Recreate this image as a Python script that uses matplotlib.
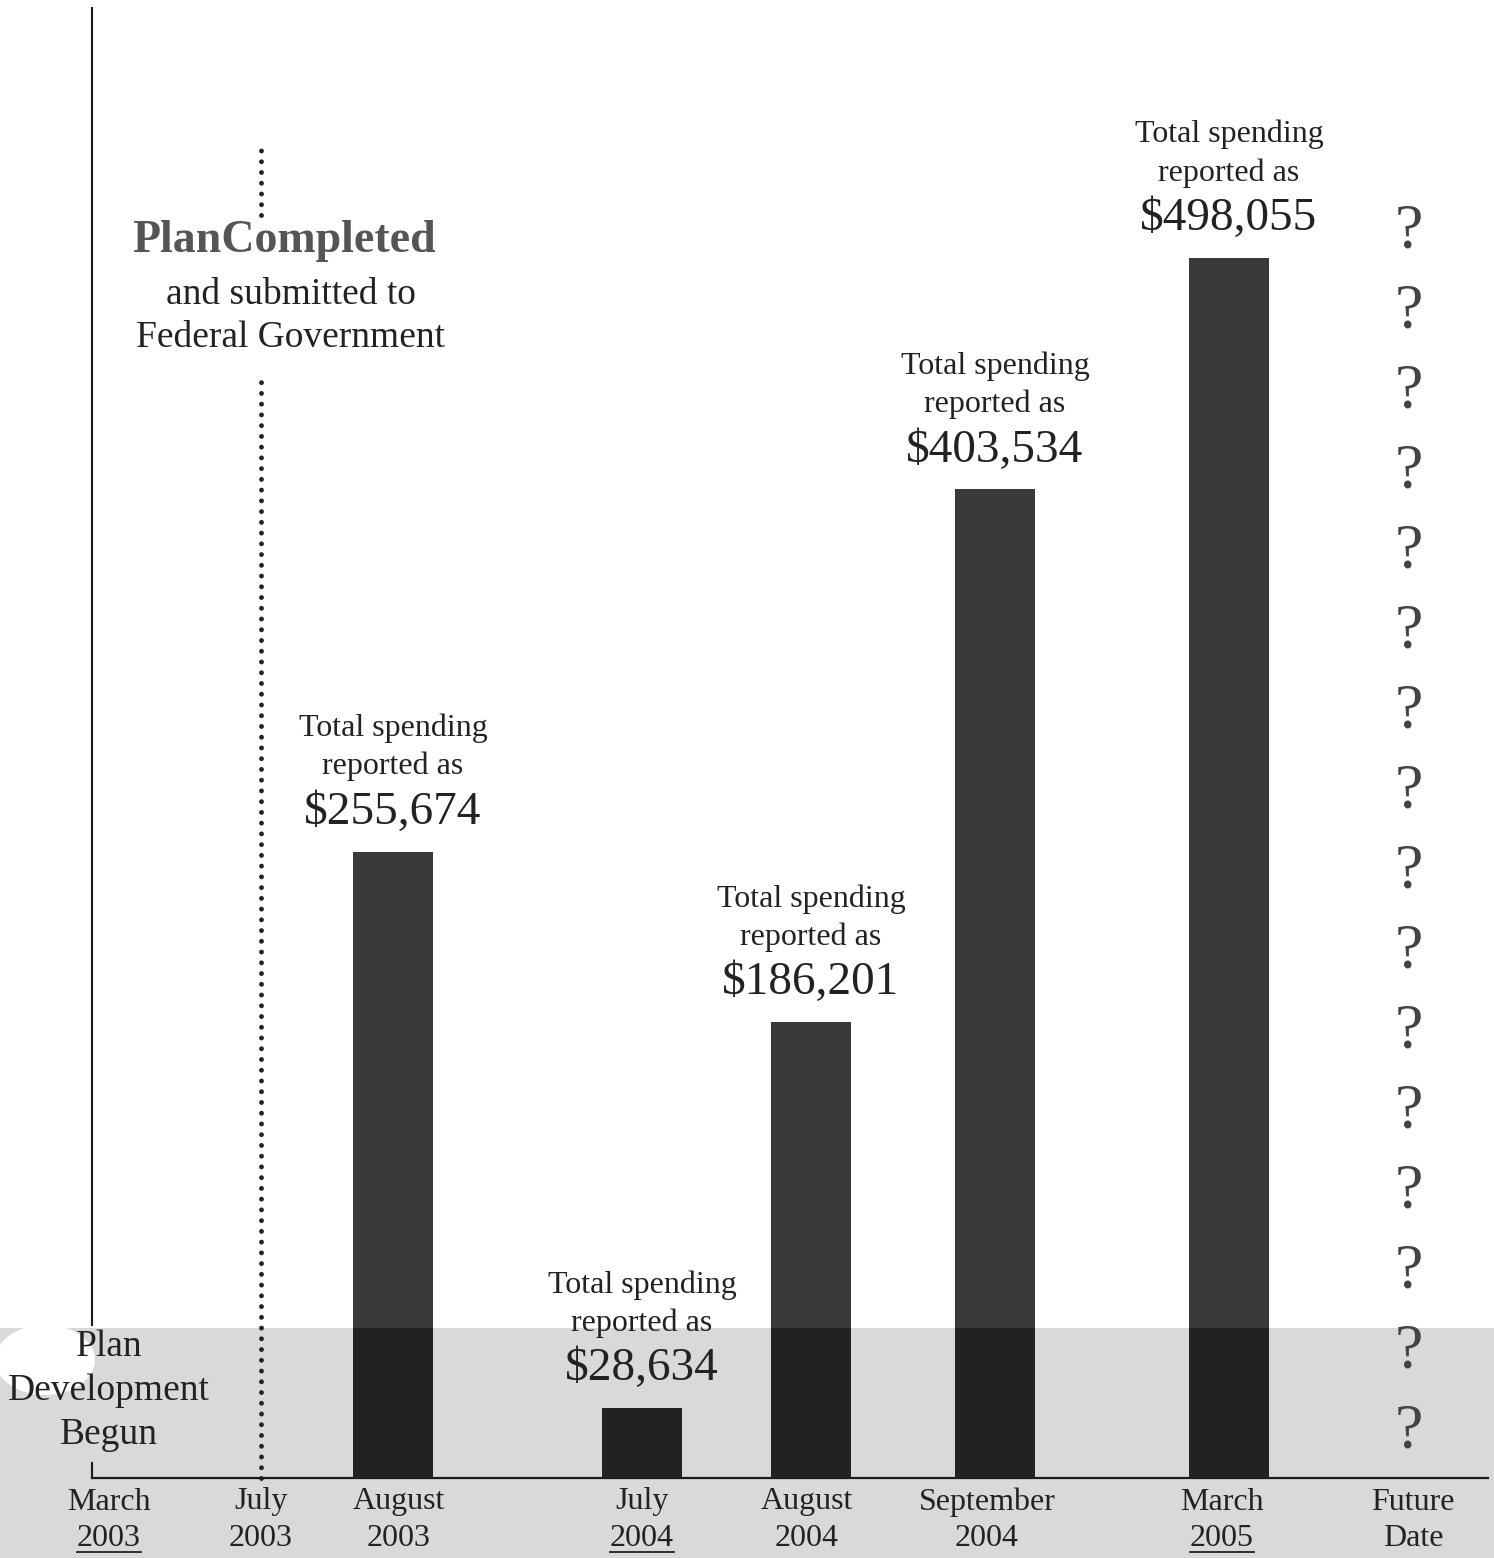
import matplotlib
matplotlib.use("Agg")
import matplotlib.pyplot as plt
from matplotlib.patches import Rectangle, Ellipse
from matplotlib.lines import Line2D
from matplotlib.transforms import blended_transform_factory
import numpy as np

plt.rcParams["font.family"] = ["Liberation Serif", "DejaVu Serif"]

# timeline labels
months = ["March", "July", "August", "July", "August", "September", "March", "Future"]
years = ["2003", "2003", "2003", "2004", "2004", "2004", "2005", "Date"]
underlined = [True, False, False, True, False, False, True, False]

# reported spending
bar_dates = ["August 2003", "July 2004", "August 2004", "September 2004", "March 2005"]
spending = [255674, 28634, 186201, 403534, 498055]

# layout (axis runs 92..1488 like the page)
label_x = [109, 261, 399, 642, 807, 987, 1222, 1413]
bar_x = [393, 642, 811, 995, 1229]
plan_x = 261
future_x = 1409
n_questions = 16

W, H = 1494, 1558
fig = plt.figure(figsize=(W / 100, H / 100), dpi=100)
fig.patch.set_facecolor("white")

# grey scan band at the bottom of the page
band_h = (H - 1328) / H
band = Rectangle((0, 0), 1, band_h, transform=fig.transFigure,
                 facecolor="#d9d9d9", edgecolor="none", zorder=-2)
fig.patches.append(band)
blob = Ellipse((45 / W, (H - 1360) / H), 100 / W, 70 / H, transform=fig.transFigure,
               facecolor="white", edgecolor="none", zorder=-1)
fig.patches.append(blob)

ax = fig.add_axes([92 / W, 80 / H, 1396 / W, 1470 / H])
ax.patch.set_visible(False)
ax.set_xlim(92, 1488)
ax.set_ylim(0, 600000)
for s in ["top", "right", "left"]:
    ax.spines[s].set_visible(False)
ax.spines["bottom"].set_linewidth(1.6)
ax.spines["bottom"].set_color("#1a1a1a")
ax.set_xticks([])
ax.set_yticks([])

bars = ax.bar(bar_x, spending, width=80, color="#3a3a3a", zorder=2)
dark = ax.bar(bar_x, spending, width=80, color="#222222", zorder=3)
clip = Rectangle((0, 0), 1, band_h, transform=fig.transFigure)
for b in dark:
    b.set_clip_path(clip)

# left vertical line, interrupted by the label blob
ax.axvline(92, ymin=(1478 - 1325) / 1470, ymax=1, color="#1a1a1a", lw=1.5, clip_on=False)
ax.axvline(92, ymin=0, ymax=15 / 1470, color="#1a1a1a", lw=1.5, clip_on=False)

# dotted "plan completed" marker
dot = dict(color="#222222", lw=3.5, linestyle=(0, (0.01, 2.2)), dash_capstyle="round",
           clip_on=False)
ax.axvline(plan_x, ymin=0, ymax=(1478 - 378) / 1470, **dot)
ax.axvline(plan_x, ymin=(1478 - 215) / 1470, ymax=(1478 - 143) / 1470, **dot)

trans = blended_transform_factory(ax.transData, ax.transAxes)
ax.text(284, (1478 - 241) / 1470, "PlanCompleted", transform=trans, ha="center",
        va="center", fontsize=33, fontweight="bold", color="#555555")
ax.text(291, (1478 - 316) / 1470, "and submitted to\nFederal Government", transform=trans,
        ha="center", va="center", fontsize=27, linespacing=1.33, color="#222222")

ax.text(109, (1478 - 1391) / 1470, "Plan\nDevelopment\nBegun", transform=trans,
        ha="center", va="center", fontsize=27, linespacing=1.35, color="#222222",
        clip_on=False)

# spending labels
for x, v in zip(bar_x, spending):
    ax.annotate(rf"\${v:,}", (x, v), xytext=(0, 39), textcoords="offset pixels",
                ha="center", va="center", fontsize=34, color="#222222")
    ax.annotate("Total spending\nreported as", (x, v), xytext=(0, 104),
                textcoords="offset pixels", ha="center", va="center", fontsize=23,
                linespacing=1.38, color="#222222")

# question marks for the future
for yf in np.linspace((1478 - 232) / 1470, (1478 - 1432) / 1470, n_questions):
    ax.text(future_x, yf, "?", transform=trans, ha="center", va="center",
            fontsize=46, color="#444444")

# date labels under the axis
year_texts = []
for x, m, y in zip(label_x, months, years):
    ax.text(x, (1478 - 1502) / 1470, m, transform=trans, ha="center", va="center",
            fontsize=23, color="#222222", clip_on=False)
    t = ax.text(x, (1478 - 1539) / 1470, y, transform=trans, ha="center", va="center",
                fontsize=23, color="#222222", clip_on=False)
    year_texts.append(t)

fig.canvas.draw()
renderer = fig.canvas.get_renderer()
for t, u in zip(year_texts, underlined):
    if u:
        bb = t.get_window_extent(renderer)
        yl = bb.y0 + 2
        fig.add_artist(Line2D([bb.x0, bb.x1], [yl, yl], transform=None,
                              color="#222222", lw=1.3))

fig.savefig("out.png", dpi=100)
